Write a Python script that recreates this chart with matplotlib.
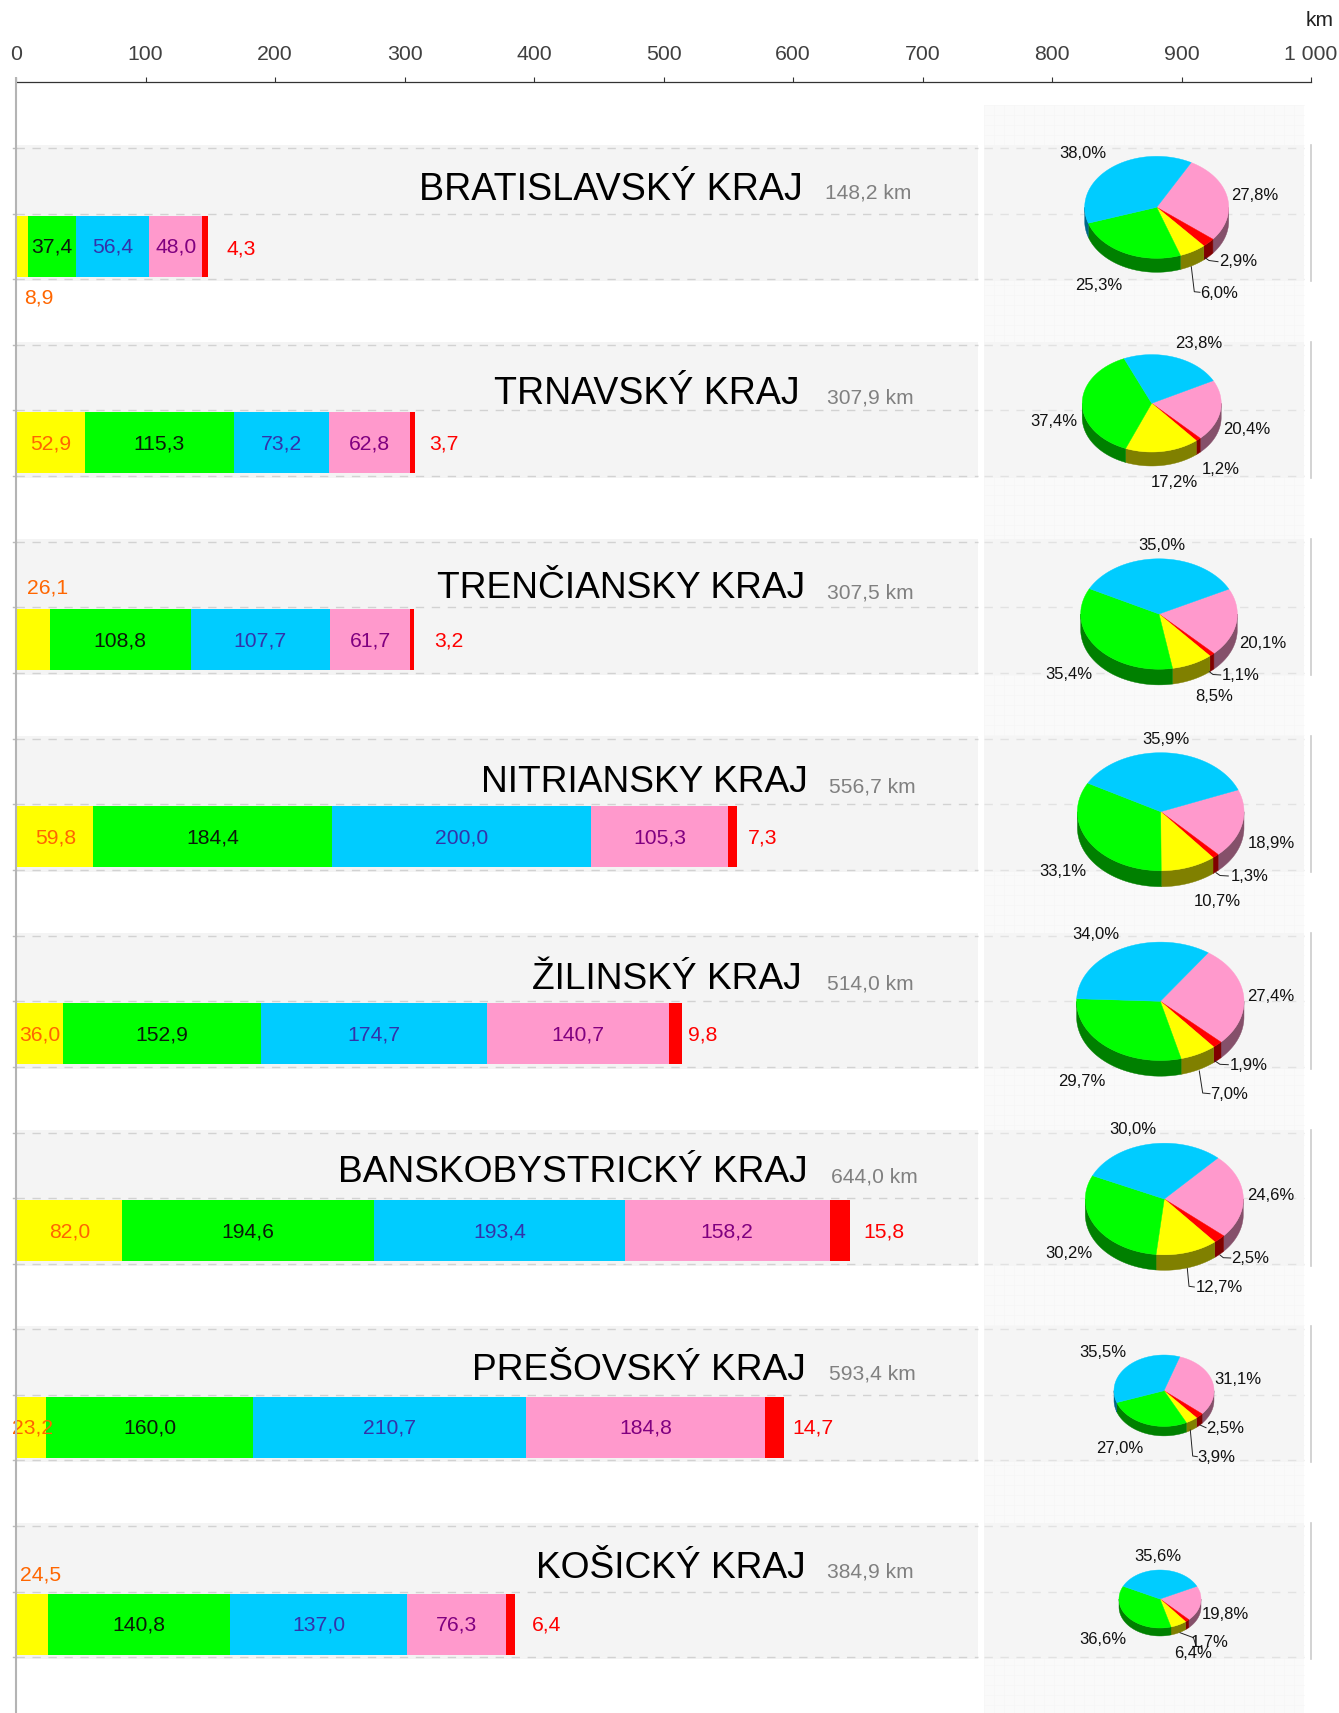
import numpy as np
import matplotlib
matplotlib.use("Agg")
import matplotlib.pyplot as plt
from matplotlib.patches import Polygon, Rectangle

plt.rcParams['font.family'] = ['Liberation Sans', 'DejaVu Sans']

# Data
kraje = ['BRATISLAVSKÝ KRAJ', 'TRNAVSKÝ KRAJ', 'TRENČIANSKY KRAJ', 'NITRIANSKY KRAJ',
         'ŽILINSKÝ KRAJ', 'BANSKOBYSTRICKÝ KRAJ', 'PREŠOVSKÝ KRAJ', 'KOŠICKÝ KRAJ']
spolu = [148.2, 307.9, 307.5, 556.7, 514.0, 644.0, 593.4, 384.9]

zlta = [8.9, 52.9, 26.1, 59.8, 36.0, 82.0, 23.2, 24.5]
zelena = [37.4, 115.3, 108.8, 184.4, 152.9, 194.6, 160.0, 140.8]
modra = [56.4, 73.2, 107.7, 200.0, 174.7, 193.4, 210.7, 137.0]
# first pink bar is drawn shorter than its printed label says
ruzova = [41.2, 62.8, 61.7, 105.3, 140.7, 158.2, 184.8, 76.3]
ruzova_popis = [48.0, 62.8, 61.7, 105.3, 140.7, 158.2, 184.8, 76.3]
cervena = [4.3, 3.7, 3.2, 7.3, 9.8, 15.8, 14.7, 6.4]

pct_ruzova = [27.8, 20.4, 20.1, 18.9, 27.4, 24.6, 31.1, 19.8]
pct_cervena = [2.9, 1.2, 1.1, 1.3, 1.9, 2.5, 2.5, 1.7]
pct_zlta = [6.0, 17.2, 8.5, 10.7, 7.0, 12.7, 3.9, 6.4]
pct_zelena = [25.3, 37.4, 35.4, 33.1, 29.7, 30.2, 27.0, 36.6]
pct_modra = [38.0, 23.8, 35.0, 35.9, 34.0, 30.0, 35.5, 35.6]

tick_km = [0, 100, 200, 300, 400, 500, 600, 700, 800, 900, 1000]
tick_txt = ['0', '100', '200', '300', '400', '500', '600', '700', '800', '900', '1 000']

# Colours
farby = ['#ffff00', '#00ff00', '#00ccff', '#ff99cc', '#ff0000']
farby_popis = ['#ff6600', '#0a1a0a', '#3333aa', '#800080', '#ff0000']

# Layout in pixels of the 1339x1713 picture
X0, X1 = 16, 1311
Y_OS = 82
Y_PRVY = 246
KROK = 196.9
VYSKA = 61

titul_x = [802.8, 799.5, 805, 808, 801.7, 808, 806, 806]
titul_y = [189.8, 394, 588.4, 782.8, 979.4, 1172.7, 1370.4, 1568]
titul_pt = [27.1, 27.0, 26.7, 26.75, 26.7, 26.75, 26.7, 26.7]
km_x = [824.6, 826.8, 826.8, 829, 826.8, 831, 829, 826.8]
km_y = [193, 398.5, 592.9, 787.3, 983.9, 1177.2, 1373.8, 1571.5]
# offset of the yellow value from the middle of its segment
zlta_off = [(17, 50.7), (0.5, 0), (14.5, -53), (0.5, 0), (0.5, 0), (0.5, 0), (1.5, 0), (9, -50)]
cervena_off = [33.5, 29.5, 35, 26, 21.4, 34.2, 29, 32.3]
cervena_dy = [2, 0, 0, 0, 0, 0, 0, 0]

# pie: centre x, centre y, rx, ry, depth, start angle of the pink slice
kolace = [
    (1156.7, 207.3, 72, 51, 14, 61.4),
    (1151.7, 403.3, 69.5, 48.7, 14, 27.7),
    (1159, 614, 78.3, 55.2, 15.7, 26.8),
    (1160.7, 811.7, 83.3, 59, 16, 21.7),
    (1160.3, 1001.3, 83.7, 59.2, 15.7, 55.1),
    (1164.3, 1199, 79, 55.8, 15.5, 47.3),
    (1164, 1390.7, 50, 35.7, 9.5, 71.6),
    (1160, 1599, 41, 29, 8, 25.9),
]
# label centres: pink, red, yellow, green, blue
kolac_txt = [
    [(1254.3, 195), (1237.7, 260.7), (1219.3, 292.3), (1098.3, 284.7), (1083.3, 152.3)],
    [(1247, 429), (1220.3, 468.7), (1174, 481.7), (1054.3, 420), (1199, 342.7)],
    [(1263, 642), (1240.7, 675), (1214, 695.7), (1068.7, 673.7), (1161.7, 544)],
    [(1271.3, 843), (1250, 875.7), (1217, 900), (1062.7, 870), (1166.3, 738)],
    [(1271, 995.3), (1248.7, 1064.7), (1228.7, 1093.7), (1082, 1080), (1096, 933.3)],
    [(1271, 1195), (1249.7, 1257.7), (1219, 1286.7), (1068.7, 1252.7), (1133.3, 1128.7)],
    [(1238.3, 1379), (1225.3, 1427.7), (1216.3, 1456.7), (1119.7, 1447.3), (1103, 1351.7)],
    [(1225.7, 1613.7), (1210, 1641.3), (1192.7, 1653), (1103.3, 1638.7), (1157.7, 1555.3)],
]
vodiace = [
    [(1205, 257.7), (1209, 260.5), (1218, 261.7)],
    [(1191.3, 266.7), (1194.3, 291.7), (1200, 292.3)],
    [(1209.3, 671.7), (1213, 674.5), (1220.7, 675)],
    [(1216, 872.7), (1220, 875.5), (1228.3, 876)],
    [(1215, 1061), (1220, 1064.3), (1228.3, 1064.7)],
    [(1199.3, 1071), (1202.7, 1093), (1210, 1093.7)],
    [(1220, 1255), (1223.3, 1257.7), (1230.7, 1258)],
    [(1187.3, 1268.3), (1189, 1286.3), (1194.3, 1287)],
    [(1200, 1425), (1206, 1427.7)],
    [(1190.3, 1430), (1192.7, 1456), (1197.3, 1456.7)],
    [(1180, 1632.7), (1193.5, 1637.7), (1196, 1646)],
]


def ciarka(v):
    return f"{v:.1f}".replace('.', ',')


W, H = 1339, 1713
fig = plt.figure(figsize=(W / 100, H / 100), dpi=100, facecolor='white')

# Pixel layer below the bars: bands, pies, titles
bg = fig.add_axes([0, 0, 1, 1], zorder=0)
bg.set_xlim(0, W)
bg.set_ylim(H, 0)
bg.axis('off')

# Right panel with its faint grid
bg.add_patch(Rectangle((984, 105), 320, H - 105, fc='#fafafa', ec='none', zorder=1))
for gx in range(984, 1304, 10):
    bg.plot([gx, gx], [105, H], color='#f6f6f6', lw=0.5, zorder=1.1)
for gy in range(105, H, 10):
    bg.plot([984, 1304], [gy, gy], color='#f6f6f6', lw=0.5, zorder=1.1)

for i in range(len(kraje)):
    yc = Y_PRVY + i * KROK
    bg.add_patch(Rectangle((16, yc - 101), 962, 136, fc='#f4f4f4', ec='none', zorder=1.2))
    bg.add_patch(Rectangle((984, yc - 101), 320, 136, fc='#f5f5f5', ec='none', zorder=1.2))
    bg.plot([X1, X1], [yc - 101, yc + 35], color='#cccccc', lw=1.2, zorder=1.3)
    for dy in (-98, -32.5, 33):
        bg.plot([16, 978], [yc + dy, yc + dy], color='#d2d2d2', lw=1,
                linestyle=(0, (6, 5.5)), zorder=1.3)
        bg.plot([984, 1304], [yc + dy, yc + dy], color='#e2e2e2', lw=1,
                linestyle=(0, (6, 5.5)), zorder=1.3)
        bg.plot([13, 16], [yc + dy, yc + dy], color='#bbbbbb', lw=1, zorder=1.3)

    bg.text(titul_x[i], titul_y[i], kraje[i], ha='right', va='center', fontsize=titul_pt[i], color='black', zorder=5)
    bg.text(km_x[i], km_y[i], ciarka(spolu[i]) + ' km', ha='left', va='center', fontsize=15.1, color='#808080', zorder=5)

# Bars
ax = fig.add_axes([X0 / W, 0, (X1 - X0) / W, 1 - Y_OS / H], zorder=1, facecolor='none')
ax.set_xlim(0, 1000)
ax.set_ylim((H - Y_PRVY) / KROK, (Y_OS - Y_PRVY) / KROK)

y = np.arange(len(kraje))
serie = [zlta, zelena, modra, ruzova, cervena]
popisy = [zlta, zelena, modra, ruzova_popis, cervena]
lavo = np.zeros(len(kraje))
for s, (vals, pop) in enumerate(zip(serie, popisy)):
    ax.barh(y, vals, left=lavo, height=VYSKA / KROK, color=farby[s], linewidth=0)
    for i in range(len(kraje)):
        stred = lavo[i] + vals[i] / 2
        dx, dy = 0, 0
        if s == 0:
            dx, dy = zlta_off[i]
        if s == 4:
            stred = lavo[i] + vals[i]
            dx = cervena_off[i]
            dy = cervena_dy[i]
        ax.annotate(ciarka(pop[i]), (stred, i), xytext=(dx, -dy + 1), textcoords='offset pixels',
                    ha='center', va='center_baseline', fontsize=15.2, color=farby_popis[s],
                    annotation_clip=False)
    lavo += np.array(vals)

ax.xaxis.tick_top()
ax.set_xticks(tick_km)
ax.set_xticklabels(tick_txt, fontsize=15.3, color='#404040')
ax.tick_params(axis='x', length=3.8, width=0.8, color='#333333', pad=9.5)
ax.set_yticks([])
for k in ['left', 'right', 'bottom']:
    ax.spines[k].set_visible(False)
ax.spines['top'].set_color('#333333')
ax.spines['top'].set_linewidth(0.9)
bg.text(1320, 20, 'km', ha='center', va='center', fontsize=15, color='#222222', zorder=5)
ax.plot([0, 0], [(H - Y_PRVY) / KROK, (77 - Y_PRVY) / KROK], color='#b4b4b4', lw=1.5, clip_on=False,
        solid_capstyle='butt', zorder=5, scalex=False, scaley=False)

# Pies, drawn as tilted discs
boky = ['#85506a', '#800000', '#808000', '#008000', '#006688']
kolac_farby = ['#ff99cc', '#ff0000', '#ffff00', '#00ff00', '#00ccff']

for i, (cx, cy, rx, ry, d, start) in enumerate(kolace):
    pct = np.array([pct_ruzova[i], pct_cervena[i], pct_zlta[i], pct_zelena[i], pct_modra[i]])
    hrany = start - np.concatenate([[0], np.cumsum(pct)]) / pct.sum() * 360
    # side wall, only the part facing the viewer
    for s in range(5):
        hi, lo = hrany[s], hrany[s + 1]
        for k in (-2, -1, 0):
            a = max(lo, 180 + 360 * k)
            b = min(hi, 360 + 360 * k)
            if b > a:
                t = np.radians(np.linspace(a, b, 40))
                xs = cx + rx * np.cos(t)
                ys = cy - ry * np.sin(t)
                body = np.column_stack([np.r_[xs, xs[::-1]], np.r_[ys, ys[::-1] + d]])
                bg.add_patch(Polygon(body, fc=boky[s], ec=boky[s], lw=0.3, zorder=3))
    # top face
    for s in range(5):
        t = np.radians(np.linspace(hrany[s], hrany[s + 1], 80))
        body = np.column_stack([np.r_[cx, cx + rx * np.cos(t)], np.r_[cy, cy - ry * np.sin(t)]])
        bg.add_patch(Polygon(body, fc=kolac_farby[s], ec=kolac_farby[s], lw=0.3, zorder=4))
        tx, ty = kolac_txt[i][s]
        bg.text(tx, ty + 1, ciarka(pct[s]) + '%', ha='center', va='center', fontsize=12, color='#111111', zorder=6)

for v in vodiace:
    v = np.array(v)
    bg.plot(v[:, 0], v[:, 1], color='#222222', lw=0.7, zorder=5)

fig.savefig('out.png', dpi=100)
